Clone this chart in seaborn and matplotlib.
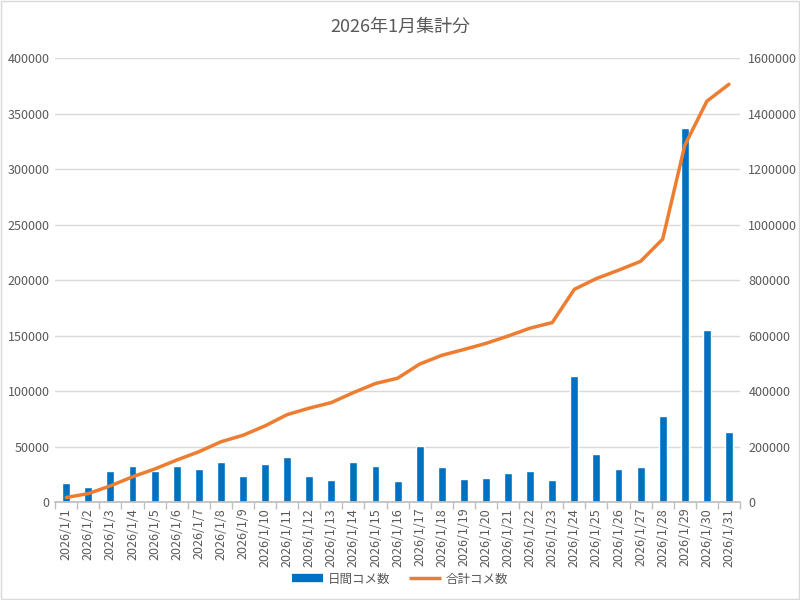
import numpy as np
import pandas as pd
import matplotlib
matplotlib.use("Agg")
import matplotlib.pyplot as plt
import seaborn as sns
from matplotlib.patches import Rectangle
from matplotlib.lines import Line2D
from matplotlib.ticker import FuncFormatter

# データ
dates = [f"2026/1/{d}" for d in range(1, 32)]
daily = [17000, 14000, 28000, 32500, 28000, 32500, 29700, 36000, 23400, 34000,
         40500, 23400, 20000, 36000, 32800, 19000, 51000, 31500, 21000, 22000,
         26500, 28500, 20000, 113500, 43000, 30000, 31500, 78000, 337000, 155000,
         63000]
total = [17000, 31000, 59000, 91500, 119500, 152000, 181700, 217700, 241100, 275100,
         315600, 339000, 359000, 395000, 427800, 446800, 497800, 529300, 550300, 572300,
         598800, 627300, 647300, 767000, 806000, 836000, 868000, 948000, 1286000, 1445000,
         1506000]

df = pd.DataFrame({"date": dates, "daily": daily, "total": total})

sns.set_theme(style="white")
plt.rcParams["font.family"] = ["Noto Sans CJK JP", "DejaVu Sans"]

grey = "#595959"
blue = "#0070C0"
orange = "#ED7D31"
plain = FuncFormatter(lambda v, p: f"{int(v)}")

fig = plt.figure(figsize=(8, 6), dpi=100)
ax = fig.add_axes([0.069, 0.163, 0.856, 0.74])

sns.barplot(data=df, x="date", y="daily", color=blue, width=0.36,
            saturation=1, ax=ax, zorder=2)
ax.set_ylim(0, 400000)
ax.set_yticks(np.arange(0, 400001, 50000))
ax.yaxis.set_major_formatter(plain)
ax.yaxis.grid(True, color="#D9D9D9", linewidth=1)
ax.set_axisbelow(True)
ax.set_xlabel("")
ax.set_ylabel("")
ax.tick_params(axis="x", labelrotation=90, labelsize=9, colors=grey, length=0, pad=4)
ax.tick_params(axis="y", labelsize=9, colors=grey, length=0, pad=4)
ax.set_xticks(np.arange(-0.5, 31, 1), minor=True)
ax.tick_params(axis="x", which="minor", length=5, color="#BFBFBF", bottom=True)
for s in ["top", "right", "left"]:
    ax.spines[s].set_visible(False)
ax.spines["bottom"].set_color("#BFBFBF")

ax2 = ax.twinx()
sns.lineplot(x=np.arange(31), y=df["total"], color=orange, linewidth=2.5,
             ax=ax2, sort=False)
ax2.set_ylim(0, 1600000)
ax2.set_yticks(np.arange(0, 1600001, 200000))
ax2.yaxis.set_major_formatter(plain)
ax2.set_ylabel("")
ax2.tick_params(axis="y", labelsize=9, colors=grey, length=0, pad=6)
for s in ["top", "right", "left", "bottom"]:
    ax2.spines[s].set_visible(False)
ax.set_xlim(-0.5, 30.5)

fig.text(0.5, 0.955, "2026年1月集計分", ha="center", va="center",
         fontsize=13, color=grey)

handles = [Line2D([0], [0], color=blue, linewidth=6, solid_capstyle="butt"),
           Line2D([0], [0], color=orange, linewidth=2.5, solid_capstyle="butt")]
fig.legend(handles, ["日間コメ数", "合計コメ数"], loc="center",
           bbox_to_anchor=(0.5, 0.035), ncol=2, frameon=False,
           fontsize=9, labelcolor=grey, handlelength=2.5, columnspacing=1.5,
           handletextpad=0.4)

fig.patches.append(Rectangle((0.001, 0.001), 0.998, 0.998, transform=fig.transFigure,
                             fill=False, edgecolor="#D9D9D9", linewidth=1))

fig.savefig("out.png", dpi=100)
